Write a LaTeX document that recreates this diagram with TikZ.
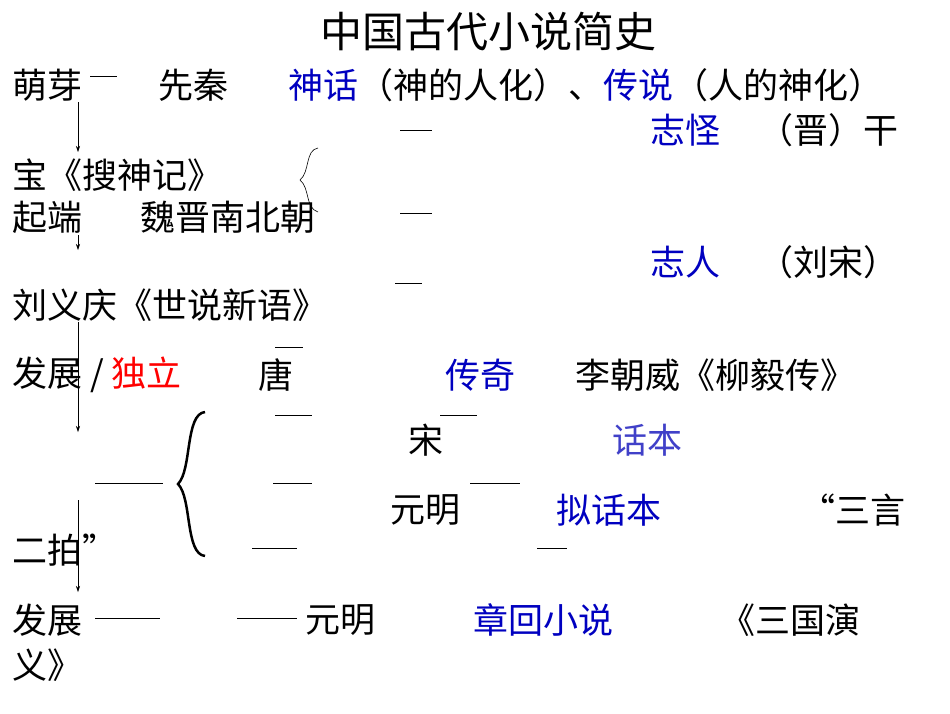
\documentclass[tikz,border=0pt]{standalone}
\usepackage{fontspec}
\setmainfont{Noto Sans CJK SC}
\usetikzlibrary{arrows.meta}
\definecolor{bl}{HTML}{0000C0}
\definecolor{sl}{HTML}{4040C8}
\tikzset{t/.style={anchor=west,inner sep=0pt,font=\fontsize{35}{38}\selectfont},
 ln/.style={line width=0.6pt},
 ar/.style={line width=0.6pt,-{Stealth[length=6pt,width=4pt]}}}
\begin{document}
\begin{tikzpicture}[x=1pt,y=-1pt]
\useasboundingbox[fill=white] (0,0) rectangle (950,713);
\node[anchor=center,inner sep=0pt,font=\fontsize{42}{46}\selectfont] (title) at (488,32) {中国古代小说简史};
\node[t] (a1) at (12,85) {萌芽};
\draw[ln] (90,76) -- (117,76);
\node[t] (a2) at (158,85) {先秦};
\node[t] (a3) at (288,85) {\textcolor{bl}{神话}（神的人化）、\textcolor{bl}{传说}（人的神化）};
\draw[ln] (400,130) -- (432,130);
\node[t] (b1) at (650,130) {\textcolor{bl}{志怪}};
\node[t] (b2) at (758,130) {（晋）干};
\node[t] (c1) at (12,175) {宝《搜神记》};
\draw[ln] (318,148) .. controls (305,150) and (310,172) .. (300,180) .. controls (310,188) and (305,208) .. (318,212);
\node[t] (d1) at (12,217) {起端};
\node[t] (d2) at (140,217) {魏晋南北朝};
\draw[ln] (400,213) -- (432,213);
\draw[ln] (395,283) -- (422,283);
\node[t] (e1) at (650,262) {\textcolor{bl}{志人}};
\node[t] (e2) at (758,262) {（刘宋）};
\node[t] (f1) at (12,305) {刘义庆《世说新语》};
\draw[ln] (275,347) -- (303,347);
\node[t] (g1) at (12,375) {发展 / \textcolor{red}{独立}};
\node[t] (g2) at (258,375) {唐};
\node[t] (g3) at (445,375) {\textcolor{bl}{传奇}};
\node[t] (g4) at (575,375) {李朝威《柳毅传》};
\draw[ln] (275,415) -- (312,415);
\draw[ln] (440,415) -- (477,415);
\node[t] (h1) at (408,440) {宋};
\node[t] (h2) at (612,440) {\textcolor{sl}{话本}};
\draw[line width=2.5pt] (205,412) .. controls (185,414) and (192,470) .. (178,484) .. controls (192,498) and (185,554) .. (205,556);
\draw[ln] (95,483) -- (163,483);
\draw[ln] (273,483) -- (312,483);
\draw[ln] (470,483) -- (520,483);
\node[t] (i1) at (390,510) {元明};
\node[t] (i2) at (556,510) {\textcolor{bl}{拟话本}};
\node[t] (i3) at (800,510) {“三言};
\node[t] (j1) at (12,550) {二拍”};
\draw[ln] (252,548) -- (297,548);
\draw[ln] (537,548) -- (567,548);
\node[t] (k1) at (12,620) {发展};
\draw[ln] (95,618) -- (160,618);
\draw[ln] (237,618) -- (297,618);
\node[t] (k2) at (305,620) {元明};
\node[t] (k3) at (473,620) {\textcolor{bl}{章回小说}};
\node[t] (k4) at (720,620) {《三国演};
\node[t] (l1) at (12,665) {义》};
\draw[ar] (78,102) -- (78,152);
\draw[ar] (78,235) -- (78,250);
\draw[ar] (78,322) -- (78,432);
\draw[ar] (78,500) -- (78,592);
\end{tikzpicture}
\end{document}
